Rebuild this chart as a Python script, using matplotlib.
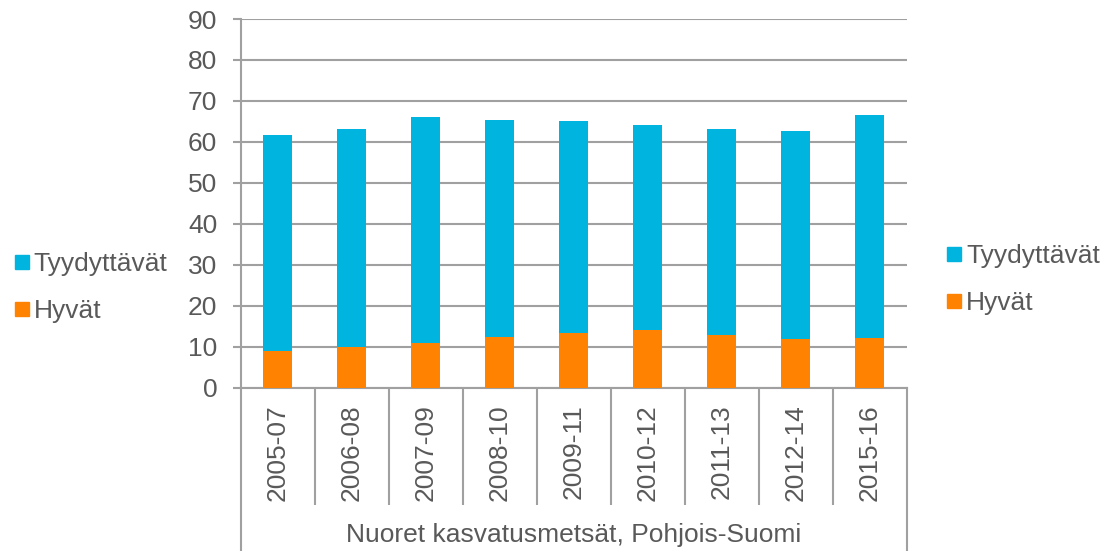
import numpy as np
import matplotlib.pyplot as plt
from matplotlib.lines import Line2D
import matplotlib.transforms as mtransforms

plt.rcParams['font.family'] = ['Liberation Sans', 'DejaVu Sans']

periods = ['2005-07', '2006-08', '2007-09', '2008-10', '2009-11',
           '2010-12', '2011-13', '2012-14', '2015-16']
hyvat = [9.1, 9.9, 10.9, 12.4, 13.3, 14.2, 12.8, 11.9, 12.1]
tyydyttavat = [52.5, 53.3, 55.2, 52.9, 51.9, 49.9, 50.3, 50.8, 54.5]
group_label = 'Nuoret kasvatusmetsät, Pohjois-Suomi'

c_tyyd = '#00B4E0'
c_hyva = '#FF8300'
grey = '#A0A0A0'
txt = '#595959'
fs = 19

fig = plt.figure(figsize=(11.1, 5.51), dpi=100)
ax = fig.add_axes([0.217, 0.296, 0.6, 0.6695])

x = np.arange(len(periods))
ax.bar(x, hyvat, width=0.39, color=c_hyva, zorder=3)
ax.bar(x, tyydyttavat, width=0.39, bottom=hyvat, color=c_tyyd, zorder=3)

ax.set_xlim(-0.5, len(periods) - 0.5)
ax.set_ylim(0, 90)
ax.set_yticks(range(0, 91, 10))
ax.yaxis.grid(True, color=grey, linewidth=1.5, zorder=0)
ax.tick_params(axis='y', colors=grey, labelcolor=txt, labelsize=fs, length=6, width=1.5, pad=11)

for s in ['top', 'right']:
    ax.spines[s].set_visible(False)
ax.spines['left'].set_color(grey)
ax.spines['left'].set_linewidth(1.5)
ax.spines['bottom'].set_color(grey)
ax.spines['bottom'].set_linewidth(1.5)

# category labels and separators
ax.set_xticks(x)
ax.set_xticklabels(periods, rotation=90, fontsize=fs, color=txt)
ax.tick_params(axis='x', length=0, pad=12)
ax.set_xticks(np.arange(0.5, len(periods) - 1, 1), minor=True)
ax.tick_params(axis='x', which='minor', length=84, width=1.5, color=grey)

trans = mtransforms.blended_transform_factory(ax.transData, ax.transAxes)
for xe in [-0.5, len(periods) - 0.5]:
    ax.add_line(Line2D([xe, xe], [0, -0.442], transform=trans, color=grey,
                       linewidth=1.5, clip_on=False))
ax.text((len(periods) - 1) / 2, -0.4, group_label, transform=trans,
        ha='center', va='center', fontsize=fs, color=txt)

handles = [Line2D([], [], marker='s', linestyle='none', markersize=9.5, color=c_tyyd),
           Line2D([], [], marker='s', linestyle='none', markersize=9.5, color=c_hyva)]
labels = ['Tyydyttävät', 'Hyvät']
for pos in [(0.003, 0.561), (0.843, 0.576)]:
    fig.legend(handles, labels, loc='upper left', bbox_to_anchor=pos, frameon=False,
               fontsize=fs, labelcolor=txt, handlelength=0.6, handletextpad=0.15,
               labelspacing=0.87, borderaxespad=0)

fig.savefig('out.png', dpi=100)
